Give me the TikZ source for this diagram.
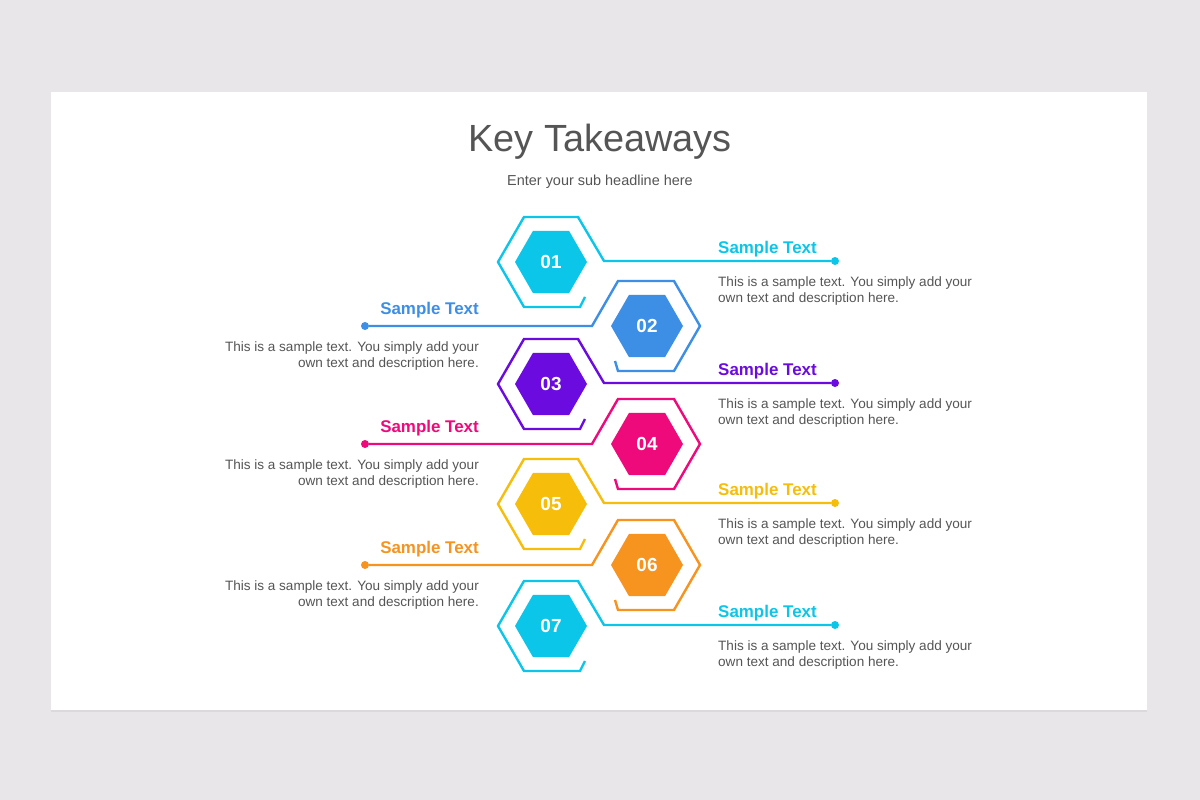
\documentclass[tikz,border=0pt]{standalone}
\usepackage{fontspec}
\setmainfont{Liberation Sans}
\usetikzlibrary{calc,shapes.geometric,shadows}
\definecolor{cCyan}{HTML}{0CC6EA}
\definecolor{cBlue}{HTML}{3D8FE6}
\definecolor{cPurple}{HTML}{6B0BE0}
\definecolor{cPink}{HTML}{EF0A7C}
\definecolor{cYellow}{HTML}{F6BE0B}
\definecolor{cOrange}{HTML}{F7931F}
\definecolor{cBack}{HTML}{E8E6E8}
\definecolor{cText}{HTML}{555555}
\tikzset{
    hexfill/.style={
        regular polygon, regular polygon sides=6, minimum size=72bp,
        inner sep=0pt, fill=#1, text=white, font=\fontsize{19}{19}\selectfont\bfseries
    },
    hexline/.style={draw=#1, line width=2.4bp, line join=miter},
    dotend/.style={circle, fill=#1, minimum size=8bp, inner sep=0pt},
    ttl/.style={text=#1, font=\fontsize{17}{17}\selectfont\bfseries, inner sep=0pt},
    desc/.style={text=cText, font=\fontsize{13.6}{17}\selectfont, inner sep=0pt}
}
\begin{document}
\begin{tikzpicture}[x=1bp, y=-1bp]
\fill[cBack] (0,0) rectangle (1200,800);
\fill[white, drop shadow={opacity=0.12, shadow xshift=0bp, shadow yshift=-2bp}] (51,92) rectangle (1147,710);

% ============ Heading ============
\node[text=cText, font=\fontsize{38}{38}\selectfont] (title) at (600,142) {Key Takeaways};
\node[text=cText, font=\fontsize{14.5}{15}\selectfont] (sub) at (600,182) {Enter your sub headline here};

% ============ Left column (odd) ============
\foreach \n/\col/\yy in {1/cCyan/262, 3/cPurple/384, 5/cYellow/504, 7/cCyan/626} {
    \node[hexfill=\col] (h\n) at (551,\yy) {0\n};
    \node[dotend=\col] (d\n) at (835,\yy-1) {};
    \draw[hexline=\col] ($(h\n)+(34,35)$) -- ++(-5,10) -- ++(-56,0) -- ++(-26,-45)
        -- ++(26,-45) -- ++(54,0) -- ++(26,44) -- (d\n);
    \node[ttl=\col, anchor=base west] (t\n) at (718,\yy-9) {Sample Text};
    \node[desc, anchor=north west, align=left] (x\n) at (718,\yy+14)
        {This is a sample text. You simply add your\\own text and description here.};
}

% ============ Right column (even) ============
\foreach \n/\col/\yy in {2/cBlue/326, 4/cPink/444, 6/cOrange/565} {
    \node[hexfill=\col] (h\n) at (647,\yy) {0\n};
    \node[dotend=\col] (d\n) at (365,\yy) {};
    \draw[hexline=\col] ($(h\n)+(-32,35)$) -- ++(3,10) -- ++(56,0) -- ++(26,-45)
        -- ++(-26,-45) -- ++(-56,0) -- ++(-26,45) -- (d\n);
    \node[ttl=\col, anchor=base east] (t\n) at (479,\yy-12) {Sample Text};
    \node[desc, anchor=north east, align=right] (x\n) at (479,\yy+15)
        {This is a sample text. You simply add your\\own text and description here.};
}
\end{tikzpicture}
\end{document}
